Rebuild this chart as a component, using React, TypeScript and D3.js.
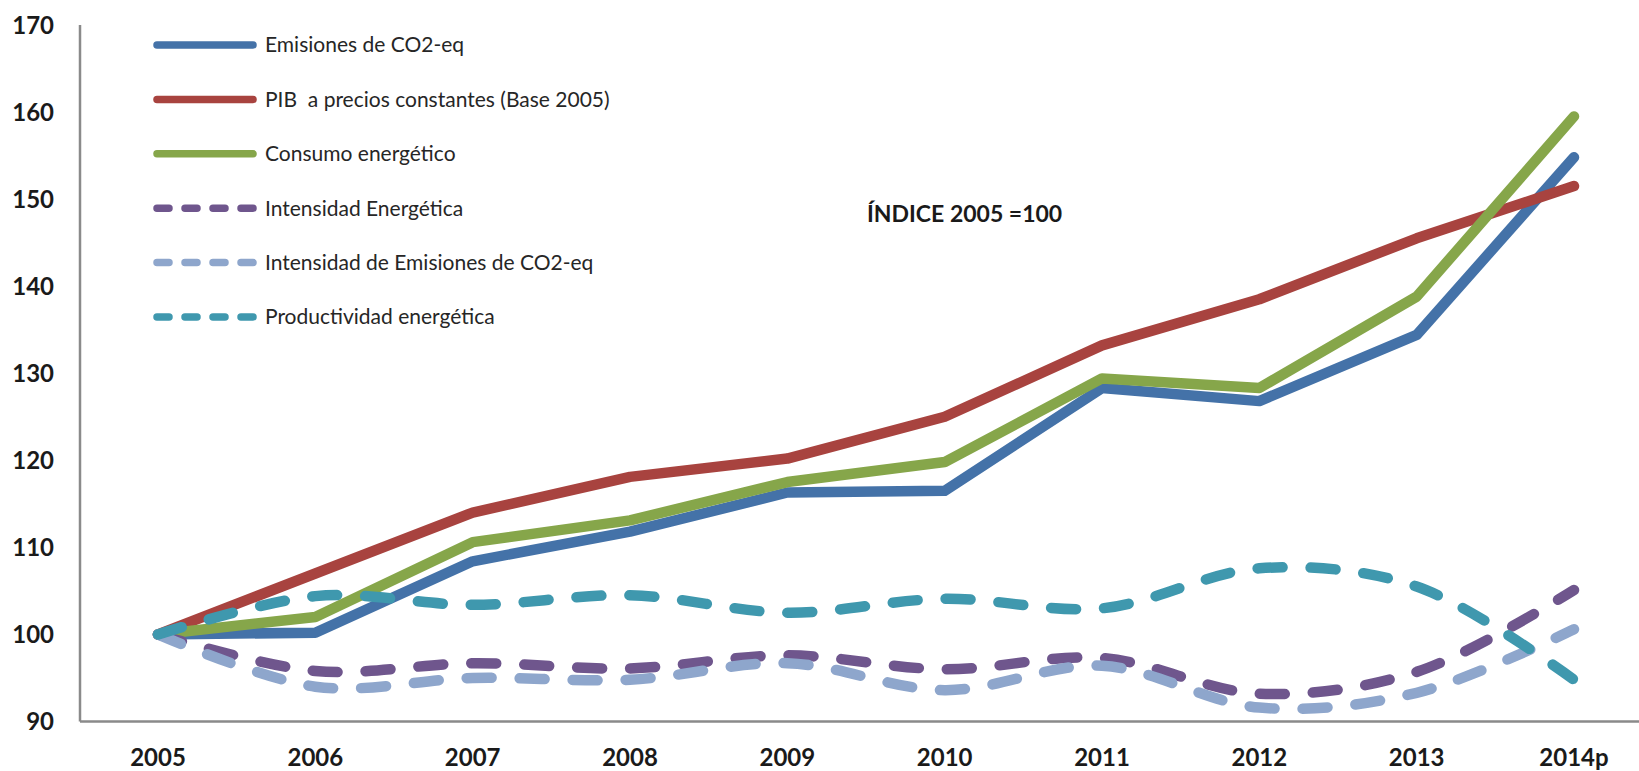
import React from 'react';
import * as d3 from 'd3';

// categories / ticks
const years = ['2005', '2006', '2007', '2008', '2009', '2010', '2011', '2012', '2013', '2014p'];
const yTicks = [90, 100, 110, 120, 130, 140, 150, 160, 170];

// series values (index 2005 = 100)
const emisiones = [100, 100.2, 108.4, 111.8, 116.3, 116.5, 128.3, 126.8, 134.4, 154.8];
const pib = [100, 107.0, 114.0, 118.1, 120.2, 125.0, 133.2, 138.5, 145.5, 151.5];
const consumo = [100, 102.0, 110.6, 113.1, 117.5, 119.8, 129.4, 128.3, 138.8, 159.5];
const intensidadEnergetica = [100, 95.8, 96.7, 96.1, 97.6, 96.0, 97.3, 93.2, 95.7, 105.1];
const intensidadEmisiones = [100, 94.0, 95.0, 94.8, 96.7, 93.6, 96.4, 91.6, 93.3, 100.6];
const productividad = [100, 104.4, 103.4, 104.5, 102.5, 104.1, 103.0, 107.6, 105.5, 94.8];

const seriesNames = [
  'Emisiones de CO2-eq',
  'PIB  a precios constantes (Base 2005)',
  'Consumo energético',
  'Intensidad Energética',
  'Intensidad de Emisiones de CO2-eq',
  'Productividad energética',
];

const series = [
  { name: seriesNames[0], values: emisiones, color: '#4472a8', dashed: false },
  { name: seriesNames[1], values: pib, color: '#a8433f', dashed: false },
  { name: seriesNames[2], values: consumo, color: '#86a64a', dashed: false },
  { name: seriesNames[3], values: intensidadEnergetica, color: '#6f568d', dashed: true },
  { name: seriesNames[4], values: intensidadEmisiones, color: '#8ea6cc', dashed: true },
  { name: seriesNames[5], values: productividad, color: '#3f98ae', dashed: true },
];

const W = 1639;
const H = 771;
const axisX = 80;
const axisY = 721.5;

export default function App() {
  const x = d3.scalePoint<string>().domain(years).range([158, 1574]);
  const y = d3.scaleLinear().domain([90, 170]).range([axisY, 25]);

  const straight = d3.line<number>()
    .x((d, i) => x(years[i]) as number)
    .y(d => y(d));
  //dashed series are smoothed like excel does
  const smooth = d3.line<number>()
    .x((d, i) => x(years[i]) as number)
    .y(d => y(d))
    .curve(d3.curveCatmullRom.alpha(0.5));

  const font = 'Lato, "Open Sans", sans-serif';

  return (
    <svg width={W} height={H} style={{ position: 'absolute', left: 0, top: 0, background: '#fff' }}>
      {/* axes */}
      <line x1={axisX} x2={axisX} y1={y(170)} y2={axisY} stroke="#8a8a8a" strokeWidth={2.5} />
      <line x1={axisX} x2={W} y1={axisY} y2={axisY} stroke="#8a8a8a" strokeWidth={2.5} />

      {yTicks.map(t => (
        <text key={t} x={54} y={y(t)} dy="0.36em" textAnchor="end"
          fontFamily={font} fontWeight={700} fontSize={24} fill="#1a1a1a">{t}</text>
      ))}
      {years.map(yr => (
        <text key={yr} x={x(yr)} y={757} dy="0.36em" textAnchor="middle"
          fontFamily={font} fontWeight={700} fontSize={24} fill="#1a1a1a">{yr}</text>
      ))}

      {/* lines */}
      {series.map(s => (
        <path key={s.name} d={(s.dashed ? smooth : straight)(s.values) || ''}
          fill="none" stroke={s.color} strokeWidth={10.5}
          strokeLinecap="round" strokeLinejoin="round"
          strokeDasharray={s.dashed ? '25 28' : undefined} />
      ))}

      {/* legend */}
      {series.map((s, i) => {
        const ly = 45 + i * 54.4;
        return (
          <g key={'lg' + i}>
            <line x1={157} x2={253} y1={ly} y2={ly} stroke={s.color} strokeWidth={7.5}
              strokeLinecap="round" strokeDasharray={s.dashed ? '12 16' : undefined} />
            <text x={265} y={ly} dy="0.35em" fontFamily={font} fontSize={21} fill="#262626"
              style={{ whiteSpace: 'pre' }}>{s.name}</text>
          </g>
        );
      })}

      <text x={867} y={214} dy="0.36em" fontFamily={font} fontWeight={700} fontSize={23} fill="#1a1a1a">
        ÍNDICE 2005 =100
      </text>
    </svg>
  );
}
